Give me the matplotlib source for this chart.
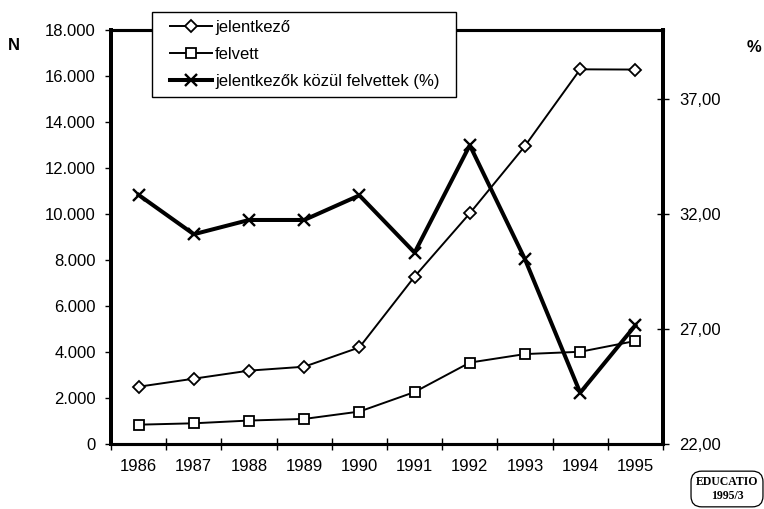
import matplotlib
matplotlib.use("Agg")
import matplotlib.pyplot as plt
from matplotlib.patches import Rectangle
from matplotlib.ticker import FuncFormatter

plt.rcParams["font.family"] = ["Liberation Sans", "DejaVu Sans"]
plt.rcParams["font.size"] = 12

# adatok (az ábráról leolvasva)
evek = ["1986", "1987", "1988", "1989", "1990", "1991", "1992", "1993", "1994", "1995"]
jelentkezo = [2490, 2840, 3190, 3360, 4200, 7280, 10030, 12960, 16290, 16280]
felvett = [840, 900, 1020, 1090, 1410, 2260, 3540, 3910, 4010, 4480]
arany = [32.83, 31.12, 31.74, 31.74, 32.81, 30.32, 34.99, 30.03, 24.23, 27.16]

x = list(range(1, len(evek) + 1))

W, H = 764, 509
fig = plt.figure(figsize=(W / 100, H / 100), dpi=100, facecolor="white")
ax = fig.add_axes([111 / W, 65 / H, 552 / W, 414 / H])
ax2 = ax.twinx()

l1, = ax.plot(x, jelentkezo, color="black", lw=1.4, marker="D", ms=6,
              mfc="white", mec="black", mew=1.3, label="jelentkező")
l2, = ax.plot(x, felvett, color="black", lw=1.4, marker="s", ms=7.6,
              mfc="white", mec="black", mew=1.3, label="felvett")
l3, = ax2.plot(x, arany, color="black", lw=2.9, marker="x", ms=9,
               mew=1.7, label="jelentkezők közül felvettek (%)")

ax.set_xlim(0.5, len(evek) + 0.5)
ax.set_ylim(0, 18000)
ax2.set_ylim(22, 40)

ax.set_yticks(range(0, 18001, 2000))
ax.yaxis.set_major_formatter(FuncFormatter(lambda v, p: f"{v:,.0f}".replace(",", ".")))
ax2.set_yticks([22, 27, 32, 37])
ax2.yaxis.set_major_formatter(FuncFormatter(lambda v, p: f"{v:.2f}".replace(".", ",")))

# évszámok a kategóriák közepén, osztásjelek a határokon
ax.set_xticks(x, evek)
ax.tick_params(axis="x", which="major", length=0, pad=11, labelsize=12)
ax.set_xticks([i + 0.5 for i in range(0, len(evek) + 1)], minor=True)
ax.tick_params(axis="x", which="minor", direction="inout", length=8, width=1)
ax.tick_params(axis="y", direction="out", length=4, width=1, pad=7, labelsize=12)
ax2.tick_params(axis="y", direction="inout", length=9, width=1, pad=7, labelsize=12)

for a in (ax, ax2):
    a.spines["left"].set_linewidth(2.8)
    a.spines["right"].set_linewidth(2.8)
    a.spines["top"].set_linewidth(2.2)
    a.spines["bottom"].set_linewidth(2.2)

# jelmagyarázat keretje külön téglalap, hogy pontosan illeszkedjen
keret = Rectangle((152 / W, 1 - 97 / H), 304 / W, 85 / H, transform=fig.transFigure,
                  facecolor="white", edgecolor="black", lw=1.0, zorder=4, clip_on=False)
ax2.add_artist(keret)
leg = ax2.legend(handles=[l1, l2, l3], loc="upper left",
                 bbox_to_anchor=(170 / W, 1 - 20 / H), bbox_transform=fig.transFigure,
                 borderaxespad=0, borderpad=0, frameon=False,
                 handlelength=2.5, handletextpad=0.2, labelspacing=0.72, fontsize=12)
leg.set_zorder(5)

fig.text(14 / W, 1 - 46 / H, "N", ha="center", va="center", fontsize=12, fontweight="bold")
fig.text(754 / W, 1 - 47 / H, "%", ha="center", va="center", fontsize=12, fontweight="bold")

fig.text(727 / W, 1 - 489 / H, "EDUCATIO\n1995/3", ha="center", va="center",
         fontsize=8.5, fontweight="bold", family=["Liberation Serif", "DejaVu Serif"],
         linespacing=1.25,
         bbox=dict(boxstyle="round,pad=0.4,rounding_size=0.9", fc="white", ec="black", lw=0.9))

fig.savefig("out.png", dpi=100, facecolor="white")
